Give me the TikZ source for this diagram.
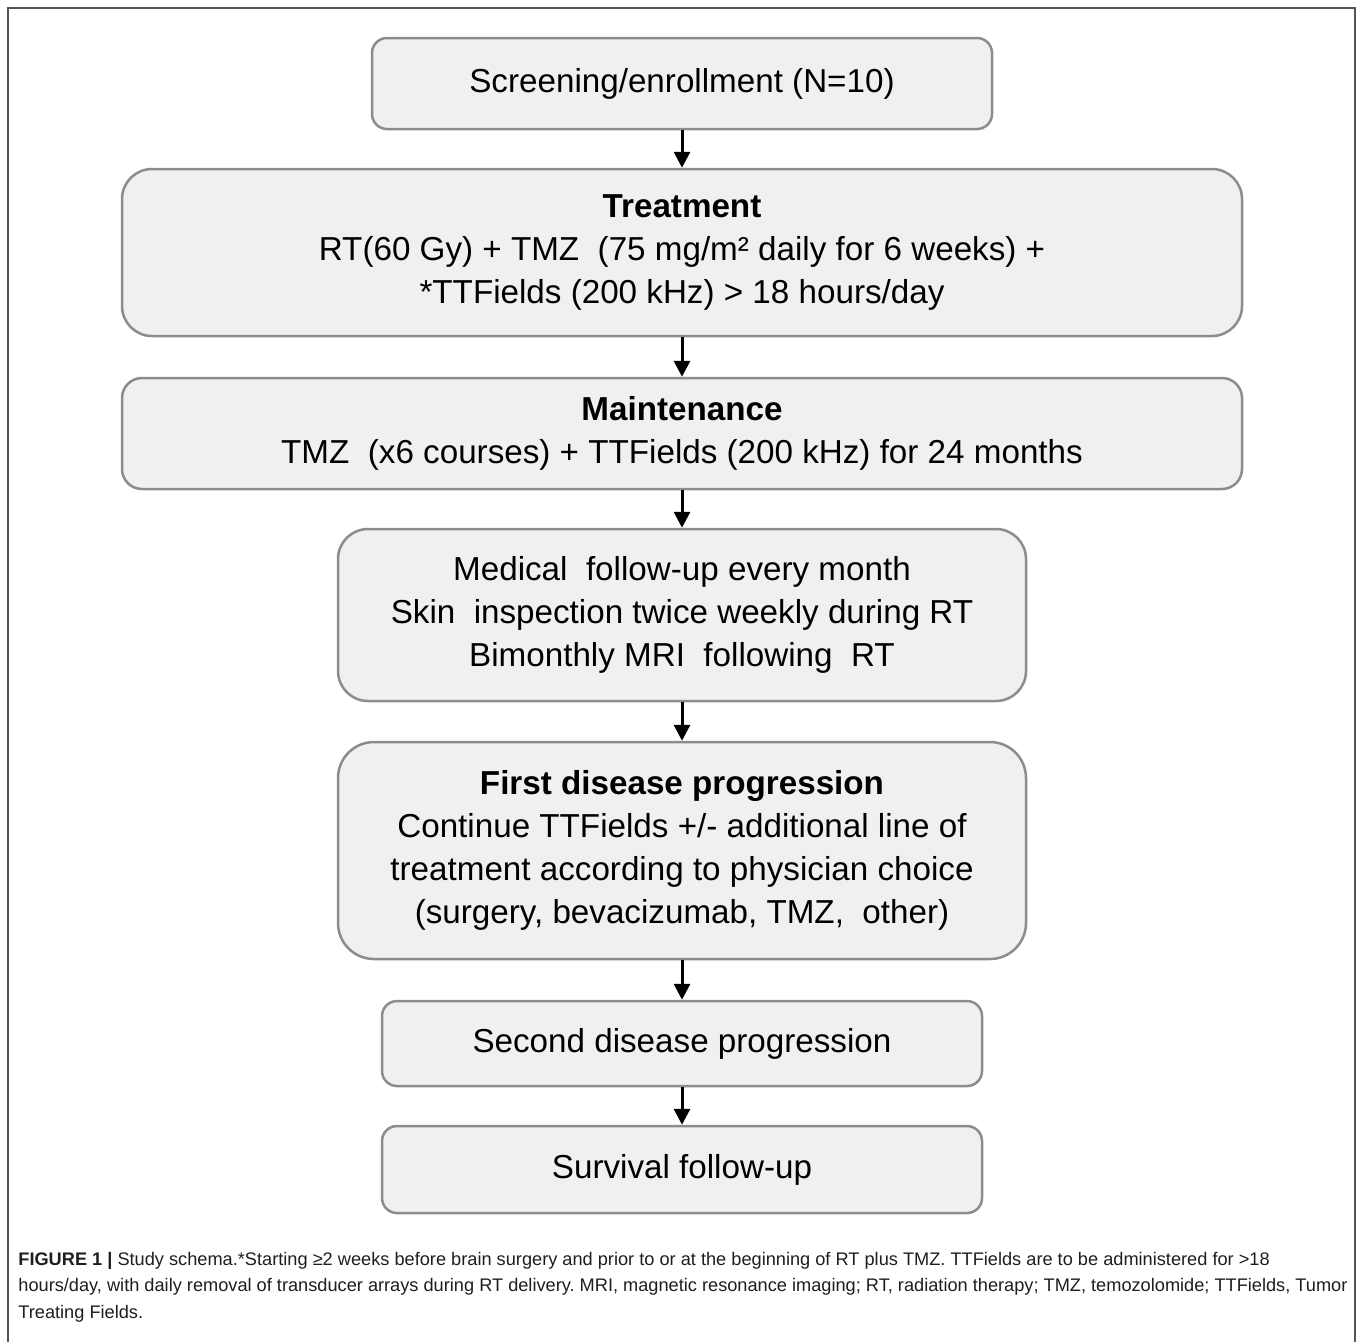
\documentclass[tikz,border=0pt]{standalone}
\usepackage{fontspec}
\setmainfont{Liberation Sans}
\usetikzlibrary{arrows.meta}
\definecolor{boxfill}{HTML}{F0F0F0}
\definecolor{boxline}{HTML}{8C8C8C}
\definecolor{framegray}{HTML}{555555}
\definecolor{captext}{HTML}{1E1E1E}
\frenchspacing
\begin{document}
\begin{tikzpicture}[x=0.5pt,y=-0.5pt,
    stage/.style={draw=boxline, fill=boxfill, line width=1.25pt, align=center,
      inner sep=0pt, font=\fontsize{16.6}{21.5}\selectfont},
    flow/.style={-{Triangle[width=8pt,length=8pt]}, line width=1.5pt, black}]
        \useasboundingbox (0,0) rectangle (1358,1341);
        \draw[framegray, line width=1pt] (8,1360) |- (1355,8) -- (1355,1360);
        \node at (682,83.5) [stage, rounded corners=7.5pt, minimum width=310pt, minimum height=45.5pt] (screen) {Screening/enrollment (N=10)};
        \node at (682,252.5) [stage, rounded corners=15pt, minimum width=560pt, minimum height=83.5pt] (treat) {\textbf{Treatment}\\RT(60 Gy) + TMZ\ \ (75 mg/m² daily for 6 weeks) +\\*TTFields (200 kHz) > 18 hours/day};
        \node at (682,433.5) [stage, rounded corners=10pt, minimum width=560pt, minimum height=55.5pt] (maint) {\textbf{Maintenance}\\TMZ\ \ (x6 courses) + TTFields (200 kHz) for 24 months};
        \node at (682,615) [stage, rounded corners=15pt, minimum width=344pt, minimum height=86pt] (follow) {Medical\ \ follow-up every month\\Skin\ \ inspection twice weekly during RT\\Bimonthly MRI\ \ following\ \ RT};
        \node at (682,850.5) [stage, rounded corners=18pt, minimum width=344pt, minimum height=108.5pt] (first) {\textbf{First disease progression}\\Continue TTFields +/- additional line of\\treatment according to physician choice\\(surgery, bevacizumab, TMZ,\ \ other)};
        \node at (682,1043.5) [stage, rounded corners=7.5pt, minimum width=300pt, minimum height=42.5pt] (second) {Second disease progression};
        \node at (682,1169.5) [stage, rounded corners=7.5pt, minimum width=300pt, minimum height=43.5pt] (surv) {Survival follow-up};
        \draw[flow] (screen) -- (treat);
        \draw[flow] (treat) -- (maint);
        \draw[flow] (maint) -- (follow);
        \draw[flow] (follow) -- (first);
        \draw[flow] (first) -- (second);
        \draw[flow] (second) -- (surv);
        \node at (18,1252) [anchor=north west, inner sep=0pt, align=left, text=captext, font=\fontsize{9.1}{13.1}\selectfont] (caption) {\textbf{FIGURE 1 |} Study schema.*Starting ≥2 weeks before brain surgery and prior to or at the beginning of RT plus TMZ. TTFields are to be administered for >18\\hours/day, with daily removal of transducer arrays during RT delivery. MRI, magnetic resonance imaging; RT, radiation therapy; TMZ, temozolomide; TTFields, Tumor\\Treating Fields.};
\end{tikzpicture}
\end{document}
